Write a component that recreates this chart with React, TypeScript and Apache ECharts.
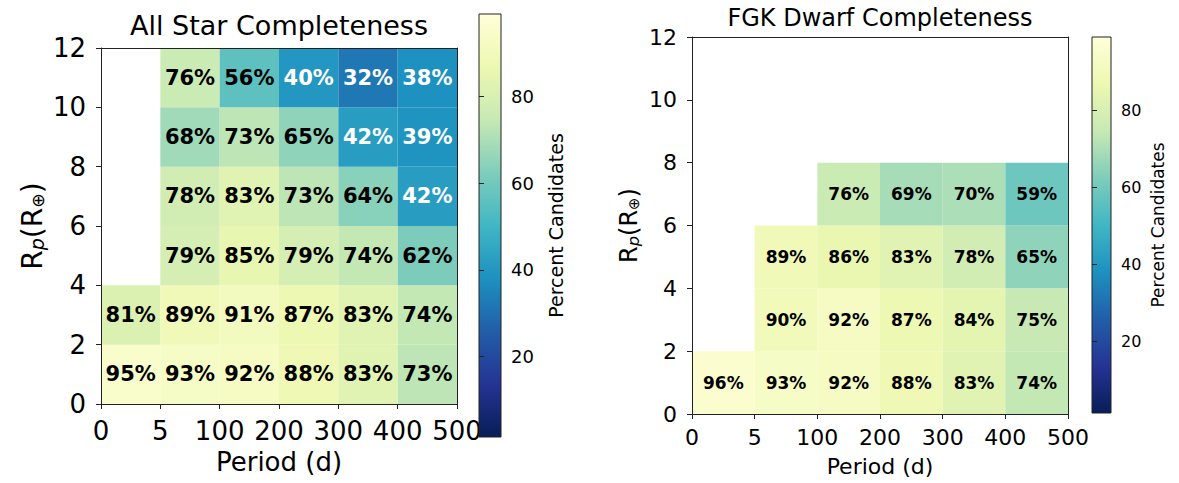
import React, { useEffect, useRef } from 'react';
import * as echarts from 'echarts';

// Bin-edge tick labels
const periodTicks = ['0', '5', '100', '200', '300', '400', '500'];
const radiusBinWidth = 2;
// Rows bottom -> top (Rp bins 0-2, 2-4, ... 10-12), columns = period bins
const allStarRows: (number | null)[][] = [
  [95, 93, 92, 88, 83, 73],
  [81, 89, 91, 87, 83, 74],
  [null, 79, 85, 79, 74, 62],
  [null, 78, 83, 73, 64, 42],
  [null, 68, 73, 65, 42, 39],
  [null, 76, 56, 40, 32, 38],
];
const fgkRows: (number | null)[][] = [
  [96, 93, 92, 88, 83, 74],
  [null, 90, 92, 87, 84, 75],
  [null, 89, 86, 83, 78, 65],
  [null, null, 76, 69, 70, 59],
  [null, null, null, null, null, null],
  [null, null, null, null, null, null],
];
const colorbarTicks = [20, 40, 60, 80];
const colorMin = 1.5;
const colorMax = 99;
const ylgnbuR = ['#081d58', '#253494', '#225ea8', '#1d91c0', '#41b6c4', '#7fcdbb', '#c7e9b4', '#edf8b1', '#ffffd9'];

const FONT = '"DejaVu Sans", sans-serif';

function toData(rows: (number | null)[][]) {
  const out: number[][] = [];
  rows.forEach((row, r) => {
    row.forEach((v, c) => {
      if (v !== null) out.push([c, r * radiusBinWidth, v]);
    });
  });
  return out;
}

function cellRenderer(fontSize: number) {
  return (params: any, api: any) => {
    const x = api.value(0);
    const y = api.value(1);
    const v = api.value(2);
    const a = api.coord([x, y]);
    const b = api.coord([x + 1, y + radiusBinWidth]);
    return {
      type: 'rect',
      shape: { x: a[0], y: b[1], width: b[0] - a[0], height: a[1] - b[1] },
      style: { fill: api.visual('color') },
      textContent: {
        style: {
          text: v + '%',
          fill: v < 50 ? '#ffffff' : '#000000',
          fontSize,
          fontWeight: 'bold',
          fontFamily: FONT,
        },
      },
      textConfig: { position: 'inside' },
    };
  };
}

function colorbarRenderer(params: any, api: any) {
  const a = api.coord([0, colorMin]);
  const b = api.coord([1, colorMax]);
  const stops = ylgnbuR.map((c, i) => ({ offset: i / (ylgnbuR.length - 1), color: c }));
  return {
    type: 'rect',
    shape: { x: a[0], y: b[1], width: b[0] - a[0], height: a[1] - b[1] },
    style: {
      fill: new echarts.graphic.LinearGradient(0, 1, 0, 0, stops),
      stroke: '#222',
      lineWidth: 1,
    },
  };
}

const yName = '{r|R}{s|p}{r|(R}{o|⊕}{r|)}';
function yNameStyle(fs: number) {
  return {
    color: '#000',
    fontFamily: FONT,
    fontSize: fs,
    rich: {
      r: { fontSize: fs, fontFamily: FONT, color: '#000', verticalAlign: 'bottom', lineHeight: fs * 1.2 },
      s: { fontSize: fs * 0.68, fontFamily: FONT, fontStyle: 'italic', color: '#000', verticalAlign: 'bottom', lineHeight: fs * 1.0 },
      o: { fontSize: fs * 0.62, fontFamily: FONT, color: '#000', verticalAlign: 'bottom', lineHeight: fs * 1.0 },
    },
  };
}

function plotAxes(gridIndex: number, tickFs: number, nameFs: number, xMargin: number, yMargin: number, nameGapX: number, nameGapY: number) {
  const line = { show: true, onZero: false, lineStyle: { color: '#222', width: 1 } };
  const tick = { show: true, length: 5, lineStyle: { color: '#222', width: 1 } };
  const xAxes = [
    {
      type: 'value', gridIndex, position: 'bottom', min: 0, max: 6, interval: 1, z: 3,
      axisLine: line, axisTick: tick, splitLine: { show: false },
      axisLabel: {
        show: true, color: '#000', fontSize: tickFs, fontFamily: FONT, margin: xMargin,
        showMinLabel: true, showMaxLabel: true,
        formatter: (v: number) => periodTicks[Math.round(v)] ?? '',
      },
      name: 'Period (d)', nameLocation: 'middle', nameGap: nameGapX,
      nameTextStyle: { color: '#000', fontSize: tickFs, fontFamily: FONT },
    },
    {
      type: 'value', gridIndex, position: 'top', min: 0, max: 6, z: 3,
      axisLine: line, axisTick: { show: false }, axisLabel: { show: false }, splitLine: { show: false },
    },
  ];
  const yAxes = [
    {
      type: 'value', gridIndex, position: 'left', min: 0, max: 12, interval: 2, z: 3,
      axisLine: line, axisTick: tick, splitLine: { show: false },
      axisLabel: {
        show: true, color: '#000', fontSize: tickFs, fontFamily: FONT, margin: yMargin,
        showMinLabel: true, showMaxLabel: true,
      },
      name: yName, nameLocation: 'middle', nameGap: nameGapY,
      nameTextStyle: yNameStyle(nameFs),
    },
    {
      type: 'value', gridIndex, position: 'right', min: 0, max: 12, z: 3,
      axisLine: line, axisTick: { show: false }, axisLabel: { show: false }, splitLine: { show: false },
    },
  ];
  return { xAxes, yAxes };
}

function cbarAxes(gridIndex: number, fs: number, nameFs: number, nameGap: number) {
  return {
    x: { type: 'value', gridIndex, min: 0, max: 1, show: false },
    y: {
      type: 'value', gridIndex, position: 'right', min: colorMin, max: colorMax, z: 6,
      axisLine: { show: false },
      splitLine: { show: false },
      axisTick: { show: true, length: 5, customValues: colorbarTicks, lineStyle: { color: '#222' } },
      axisLabel: { show: true, customValues: colorbarTicks, color: '#000', fontSize: fs, fontFamily: FONT, margin: 10 },
      name: 'Percent Candidates', nameLocation: 'middle', nameGap,
      nameTextStyle: { color: '#000', fontSize: nameFs, fontFamily: FONT },
    },
  };
}

export default function App() {
  const ref = useRef<HTMLDivElement>(null);
  useEffect(() => {
    if (!ref.current) return;
    const chart = echarts.init(ref.current, undefined, { renderer: 'svg' });
    const L = plotAxes(0, 26, 28, 14, 15, 45, 55);
    const R = plotAxes(2, 22, 24, 12, 15, 41, 51);
    const cbL = cbarAxes(1, 18, 19, 45);
    const cbR = cbarAxes(3, 16, 17, 38);
    chart.setOption({
      animation: false,
      backgroundColor: '#ffffff',
      grid: [
        { left: 101, top: 48, width: 356, height: 356, containLabel: false },
        { left: 479, top: 14, width: 22, height: 423, containLabel: false },
        { left: 692, top: 37, width: 376, height: 377, containLabel: false },
        { left: 1092, top: 37, width: 19, height: 376, containLabel: false },
      ],
      xAxis: [L.xAxes[0], L.xAxes[1], cbL.x, R.xAxes[0], R.xAxes[1], cbR.x],
      yAxis: [L.yAxes[0], L.yAxes[1], cbL.y, R.yAxes[0], R.yAxes[1], cbR.y],
      visualMap: [
        {
          type: 'continuous', show: false, min: colorMin, max: colorMax, dimension: 2,
          seriesIndex: [0, 2], inRange: { color: ylgnbuR },
        },
      ],
      graphic: [
        {
          type: 'text', x: 279, y: 25, z: 10,
          style: { text: 'All Star Completeness', fontSize: 27, fontFamily: FONT, fill: '#000', align: 'center', verticalAlign: 'middle' },
        },
        {
          type: 'text', x: 880, y: 18, z: 10,
          style: { text: 'FGK Dwarf Completeness', fontSize: 24, fontFamily: FONT, fill: '#000', align: 'center', verticalAlign: 'middle' },
        },
      ],
      series: [
        {
          type: 'custom', xAxisIndex: 0, yAxisIndex: 0, data: toData(allStarRows),
          renderItem: cellRenderer(21), z: 2, silent: true,
        },
        {
          type: 'custom', xAxisIndex: 2, yAxisIndex: 2, data: [[0, 0]],
          renderItem: colorbarRenderer, z: 5, silent: true,
        },
        {
          type: 'custom', xAxisIndex: 3, yAxisIndex: 3, data: toData(fgkRows),
          renderItem: cellRenderer(17), z: 2, silent: true,
        },
        {
          type: 'custom', xAxisIndex: 5, yAxisIndex: 5, data: [[0, 0]],
          renderItem: colorbarRenderer, z: 5, silent: true,
        },
      ],
    });
    return () => chart.dispose();
  }, []);
  return (
    <div
      ref={ref}
      style={{ position: 'absolute', left: 0, top: 0, width: 1179, height: 483, background: '#fff' }}
    />
  );
}
